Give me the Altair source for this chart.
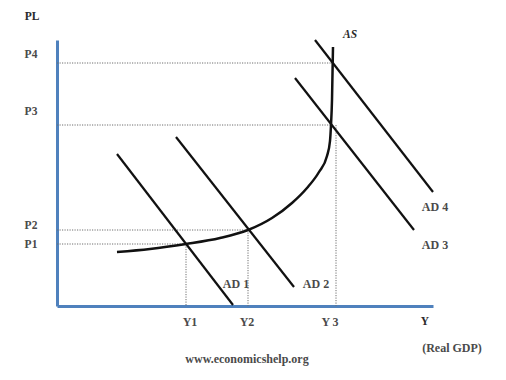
import altair as alt
import pandas as pd

# ---- data (x = real GDP units, y = price-level units) ----
as_x = [60, 93, 129, 163, 191, 215, 235, 250, 262, 270, 273, 274, 275, 276]
as_y = [54, 57, 62, 68, 76, 88, 103, 118, 134, 150, 165, 181, 206, 259]

ad_names = ["AD 1", "AD 2", "AD 3", "AD 4"]
ad_x_start = [60, 119, 238, 258]
ad_y_start = [152, 169, 228, 266]
ad_x_end = [176, 237, 357, 376]
ad_y_end = [1, 19, 76, 114]
ad_label_x = [179, 259, 378, 378]
ad_label_y = [22, 22, 61, 99]

price_names = ["P1", "P2", "P3", "P4"]
price_levels = [62, 76, 181, 243]
price_reach = [129, 191, 274, 276]
price_label_y = [61, 80, 194, 251]

gdp_names = ["Y1", "Y2", "Y 3"]
gdp_levels = [129, 191, 279]
gdp_reach = [62, 76, 181]
gdp_label_x = [133, 190, 273]

X_MAX, Y_MAX = 376, 266
FONT = "Liberation Serif"
TXT = "#4a4a4a"

xs = alt.Scale(domain=[0, X_MAX], nice=False, zero=False)
ys = alt.Scale(domain=[0, Y_MAX], nice=False, zero=False)
ax_x = alt.Axis(domainColor="#4f81bd", domainWidth=3, ticks=False, labels=False,
                grid=False, title=None)
ax_y = alt.Axis(domainColor="#4f81bd", domainWidth=3, ticks=False, labels=False,
                grid=False, title=None)

# dotted guide lines
h_df = pd.DataFrame({"x": [0] * 4, "x2": price_reach, "y": price_levels, "y2": price_levels})
v_df = pd.DataFrame({"x": gdp_levels, "x2": gdp_levels, "y": gdp_reach, "y2": [0] * 3})
guides_df = pd.concat([h_df, v_df], ignore_index=True)

guides = alt.Chart(guides_df).mark_rule(color="#6e6e6e", strokeWidth=1,
                                        strokeDash=[1.2, 1.3]).encode(
    x=alt.X("x:Q", scale=xs, axis=ax_x),
    y=alt.Y("y:Q", scale=ys, axis=ax_y),
    x2="x2:Q", y2="y2:Q")

ad_rows = []
for n, xa, ya, xb, yb in zip(ad_names, ad_x_start, ad_y_start, ad_x_end, ad_y_end):
    ad_rows.append({"name": n, "x": xa, "y": ya})
    ad_rows.append({"name": n, "x": xb, "y": yb})
ad_df = pd.DataFrame(ad_rows)
ad_lines = alt.Chart(ad_df).mark_line(color="#111111", strokeWidth=2.2).encode(
    x=alt.X("x:Q", scale=xs), y=alt.Y("y:Q", scale=ys), detail="name:N")

as_df = pd.DataFrame({"x": as_x, "y": as_y, "o": list(range(len(as_x)))})
as_line = alt.Chart(as_df).mark_line(color="#111111", strokeWidth=2.5,
                                      interpolate="monotone").encode(
    x=alt.X("x:Q", scale=xs), y=alt.Y("y:Q", scale=ys), order="o:Q")

def text_layer(df, **kw):
    base = dict(font=FONT, fontSize=12, fontWeight="bold", color=TXT,
                align="center", baseline="middle")
    base.update(kw)
    return alt.Chart(df).mark_text(**base).encode(
        x=alt.X("x:Q", scale=xs), y=alt.Y("y:Q", scale=ys), text="t:N")

lab_df = pd.DataFrame({
    "t": gdp_names + ad_names,
    "x": gdp_label_x + ad_label_x,
    "y": [-16] * 3 + ad_label_y,
})
labels = text_layer(lab_df)
p_labels = text_layer(pd.DataFrame({"t": price_names, "x": [-26] * 4, "y": price_label_y}),
                      fontSize=11.5)

bold_df = pd.DataFrame({"t": ["PL", "Y"], "x": [-25, 368], "y": [289, -16]})
bold = text_layer(bold_df, fontSize=11.5, color="#2a2a2a")

as_lab = text_layer(pd.DataFrame({"t": ["AS"], "x": [293], "y": [271]}),
                    fontStyle="italic", fontSize=11.5, color="#2a2a2a")
gdp_lab = text_layer(pd.DataFrame({"t": ["(Real GDP)"], "x": [395], "y": [-42]}))
web = text_layer(pd.DataFrame({"t": ["www.economicshelp.org"], "x": [190], "y": [-53]}),
                 fontSize=12)

chart = alt.layer(guides, ad_lines, as_line, labels, p_labels, bold, as_lab, gdp_lab, web).properties(
    width=X_MAX, height=Y_MAX,
    autosize=alt.AutoSizeParams(type="none"),
    padding={"left": 49, "top": 32, "right": 60, "bottom": 60},
).configure_view(stroke=None)

chart.save("out.html", embed_options={"renderer": "svg", "actions": False})
